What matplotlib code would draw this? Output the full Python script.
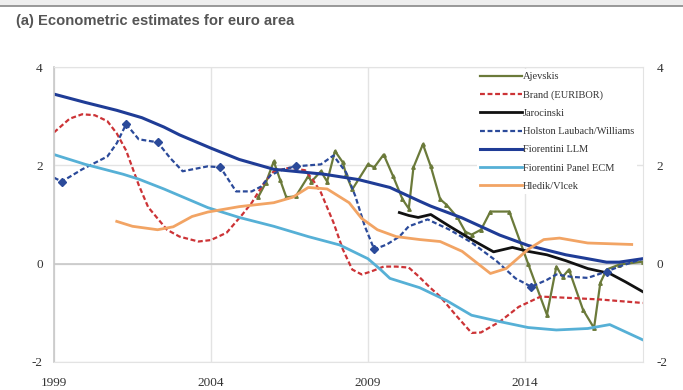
import matplotlib
matplotlib.use('Agg')
import matplotlib.pyplot as plt
from matplotlib.patches import Rectangle
from matplotlib.lines import Line2D

plt.rcParams['axes.unicode_minus'] = False

# values (year, percent)
ajev_x = [2005.5, 2005.75, 2006.0, 2006.2, 2006.4, 2006.7, 2007.1, 2007.2, 2007.5, 2007.7,
          2007.95, 2008.2, 2008.3, 2008.5, 2009.0, 2009.2, 2009.5, 2009.8, 2010.1, 2010.3,
          2010.45, 2010.75, 2011.0, 2011.3, 2011.5, 2011.85, 2012.1, 2012.3, 2012.6, 2012.9,
          2013.5, 2014.1, 2014.7, 2015.0, 2015.2, 2015.4, 2015.85, 2016.2, 2016.4, 2016.6,
          2017.0, 2017.75]
ajev_y = [1.35, 1.65, 2.08, 1.71, 1.35, 1.37, 1.78, 1.67, 1.88, 1.67,
          2.29, 2.06, 1.82, 1.51, 2.02, 1.96, 2.22, 1.78, 1.31, 1.12,
          1.96, 2.43, 1.98, 1.31, 1.20, 0.94, 0.65, 0.59, 0.69, 1.06,
          1.06, 0.0, -1.04, -0.06, -0.27, -0.12, -0.94, -1.31, -0.39, -0.12,
          -0.02, 0.04]

brand_x = [1999.0, 1999.5, 1999.9, 2000.3, 2000.7, 2001.0, 2001.3, 2001.7, 2002.0, 2002.6,
           2003.0, 2003.6, 2004.0, 2004.5, 2005.0, 2005.3, 2005.7, 2006.0, 2006.5, 2007.0,
           2007.25, 2007.5, 2007.9, 2008.2, 2008.5, 2008.8, 2009.1, 2009.5, 2009.9, 2010.3,
           2010.6, 2011.0, 2011.3, 2011.8, 2012.3, 2012.6, 2012.9, 2013.2, 2013.8, 2014.5,
           2015.5, 2016.4, 2017.75]
brand_y = [2.67, 2.95, 3.04, 3.02, 2.90, 2.65, 2.30, 1.60, 1.15, 0.69,
           0.55, 0.45, 0.48, 0.63, 1.00, 1.24, 1.65, 1.88, 1.95, 1.90,
           1.70, 1.45, 0.84, 0.29, -0.12, -0.22, -0.16, -0.06, -0.06, -0.08,
           -0.25, -0.50, -0.67, -1.05, -1.41, -1.40, -1.29, -1.18, -0.88, -0.67,
           -0.70, -0.73, -0.80]

jaro_x = [2010.0, 2010.3, 2010.6, 2011.0, 2011.6, 2012.3, 2013.0, 2013.6, 2014.1, 2014.7,
          2015.3, 2016.0, 2016.7, 2017.2, 2017.75]
jaro_y = [1.04, 0.98, 0.94, 1.00, 0.76, 0.49, 0.24, 0.33, 0.25, 0.18,
          0.06, -0.10, -0.20, -0.37, -0.57]

hlw_x = [1999.0, 1999.25, 1999.9, 2000.7, 2001.0, 2001.3, 2001.7, 2002.3, 2002.7, 2003.1,
         2003.9, 2004.3, 2004.8, 2005.3, 2005.6, 2005.9, 2006.3, 2006.7, 2007.5, 2007.9,
         2008.3, 2008.6, 2008.9, 2009.2, 2009.6, 2010.0, 2010.3, 2010.65, 2010.9, 2011.6,
         2012.3, 2013.1, 2013.7, 2014.2, 2014.7, 2015.0, 2015.5, 2016.0, 2016.6, 2017.0,
         2017.75]
hlw_y = [1.75, 1.67, 1.92, 2.18, 2.45, 2.84, 2.53, 2.47, 2.15, 1.88,
         1.98, 1.96, 1.47, 1.47, 1.57, 1.80, 1.92, 1.98, 2.02, 2.20,
         1.86, 1.37, 0.76, 0.29, 0.39, 0.55, 0.76, 0.84, 0.90, 0.69,
         0.43, 0.05, -0.30, -0.47, -0.33, -0.22, -0.27, -0.29, -0.16, -0.06,
         0.10]
hlw_marks = [1, 5, 7, 11, 17, 23, 33, 38]

llm_x = [1999.0, 2000.0, 2001.0, 2001.8, 2002.5, 2003.0, 2004.0, 2004.9, 2006.0, 2007.6,
         2008.7, 2009.7, 2010.65, 2011.0, 2012.0, 2013.2, 2014.1, 2015.3, 2016.0, 2016.6,
         2017.0, 2017.75]
llm_y = [3.45, 3.28, 3.12, 2.97, 2.78, 2.62, 2.35, 2.12, 1.92, 1.82,
         1.71, 1.55, 1.27, 1.17, 0.93, 0.58, 0.37, 0.18, 0.10, 0.03,
         0.03, 0.10]

ecm_x = [1999.0, 2000.0, 2001.2, 2001.7, 2002.5, 2003.9, 2004.9, 2006.0, 2007.1, 2008.1,
         2009.0, 2009.4, 2009.7, 2010.65, 2011.5, 2012.3, 2013.2, 2014.1, 2015.0, 2016.0,
         2016.7, 2017.75]
ecm_y = [2.22, 2.02, 1.82, 1.72, 1.52, 1.14, 0.94, 0.76, 0.55, 0.38,
         0.10, -0.12, -0.30, -0.49, -0.75, -1.05, -1.18, -1.30, -1.35, -1.32,
         -1.24, -1.55]

hv_x = [2001.0, 2001.5, 2002.3, 2002.8, 2003.4, 2003.9, 2004.9, 2006.0, 2006.6, 2007.1,
        2007.7, 2008.4, 2008.8, 2009.3, 2009.9, 2010.65, 2011.3, 2012.0, 2012.5, 2012.9,
        2013.4, 2014.1, 2014.6, 2015.1, 2016.0, 2017.4]
hv_y = [0.86, 0.76, 0.69, 0.75, 0.96, 1.05, 1.16, 1.24, 1.35, 1.55,
        1.52, 1.24, 0.92, 0.69, 0.55, 0.49, 0.45, 0.25, 0.0, -0.20,
        -0.10, 0.29, 0.49, 0.52, 0.42, 0.39]

xticks = [1999, 2004, 2009, 2014]
yticks = [-2, 0, 2, 4]
title = '(a) Econometric estimates for euro area'

serif = 'Liberation Serif'
dash = (0, (2.2, 1.2))

fig = plt.figure(figsize=(6.83, 3.9), dpi=100)
# grey strip at the top of the panel
fig.patches.append(Rectangle((0, 0.985), 1, 0.015, transform=fig.transFigure,
                             facecolor='#eeeeee', edgecolor='none'))
fig.add_artist(Line2D([0, 1], [0.985, 0.985], transform=fig.transFigure,
                      color='#888888', lw=1.2))
fig.text(0.023, 0.946, title, family='Liberation Sans', fontweight='bold',
         fontsize=10.6, color='#555555', va='center')

ax = fig.add_axes([0.079, 0.072, 0.862, 0.756])

ax.plot(ajev_x, ajev_y, color='#6b7a3a', lw=1.6, marker='^', ms=2.5)
ax.plot(brand_x, brand_y, color='#cc3336', lw=1.6, ls=dash)
ax.plot(jaro_x, jaro_y, color='#111111', lw=2.0)
ax.plot(hlw_x, hlw_y, color='#2b4a9a', lw=1.6, ls=dash,
        marker='D', ms=4, markevery=hlw_marks)
ax.plot(llm_x, llm_y, color='#1f3c96', lw=2.2)
ax.plot(ecm_x, ecm_y, color='#56b0d6', lw=2.0)
ax.plot(hv_x, hv_y, color='#f2a464', lw=2.0)

ax.set_xlim(1999, 2017.75)
ax.set_ylim(-2, 4)
ax.set_xticks(xticks)
ax.set_yticks(yticks)

ax.grid(True, color='#e3e3e3', lw=1.0)
ax.axhline(0, color='#c8c8c8', lw=1.2, zorder=1)
ax.set_axisbelow(True)
for s in ax.spines.values():
    s.set_color('#e3e3e3')
ax.spines['left'].set_color('#c8c8c8')
ax.spines['left'].set_linewidth(1.2)

ax.tick_params(length=0, labelsize=9.5, colors='#333333', pad=8)
for lab in ax.get_xticklabels() + ax.get_yticklabels():
    lab.set_family(serif)
ax.tick_params(axis='x', pad=11)

ax2 = ax.twinx()
ax2.set_ylim(-2, 4)
ax2.set_yticks(yticks)
ax2.tick_params(length=0, labelsize=9.5, colors='#333333', pad=10)
for lab in ax2.get_yticklabels():
    lab.set_family(serif)
for s in ax2.spines.values():
    s.set_visible(False)

# legend handles: plain lines like the reference
handles = [
    Line2D([], [], color='#6b7a3a', lw=1.6),
    Line2D([], [], color='#cc3336', lw=1.6, ls=dash),
    Line2D([], [], color='#111111', lw=2.0),
    Line2D([], [], color='#2b4a9a', lw=1.6, ls=dash),
    Line2D([], [], color='#1f3c96', lw=2.2),
    Line2D([], [], color='#56b0d6', lw=2.0),
    Line2D([], [], color='#f2a464', lw=2.0),
]
labels = ['Ajevskis', 'Brand (EURIBOR)', 'Jarocinski', 'Holston Laubach/Williams',
          'Fiorentini LLM', 'Fiorentini Panel ECM', 'Hledik/Vlcek']
leg = ax.legend(handles, labels, loc='upper right', bbox_to_anchor=(1.0, 1.012),
                frameon=True, framealpha=1, edgecolor='none', handlelength=4.0,
                handletextpad=0.15, labelspacing=0.86, borderpad=0.3,
                prop={'family': serif, 'size': 7.5})
for t in leg.get_texts():
    t.set_color('#333333')

fig.savefig('out.png', dpi=100)
